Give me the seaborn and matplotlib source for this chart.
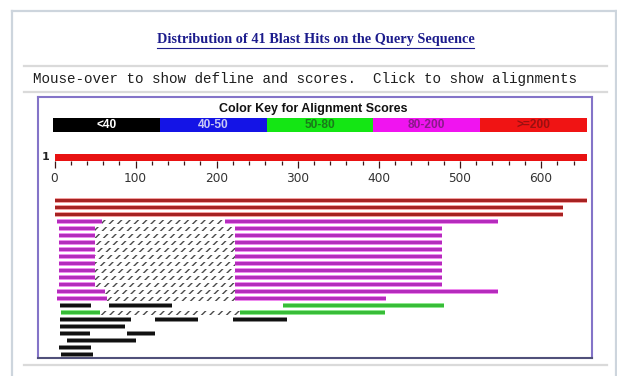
import numpy as np
import pandas as pd
import matplotlib
matplotlib.use("Agg")
import matplotlib.pyplot as plt
from matplotlib.colors import ListedColormap
import seaborn as sns

# ---------------- data ----------------
title_text = "Distribution of 41 Blast Hits on the Query Sequence"
hint_text = "Mouse-over to show defline and scores.  Click to show alignments"
key_title = "Color Key for Alignment Scores"
score_bins = ["<40", "40-50", "50-80", "80-200", ">=200"]
query_length = 657
ruler_major = [0, 100, 200, 300, 400, 500, 600]

# hit segments: row index, start, end, score bin index (-1 = link between HSPs)
seg_row = [0, 1, 2,
           3, 3, 3,
           4, 4, 4, 5, 5, 5, 6, 6, 6, 7, 7, 7, 8, 8, 8,
           9, 9, 9, 10, 10, 10, 11, 11, 11, 12, 12, 12,
           13, 13, 13, 14, 14, 14,
           15, 15, 15,
           16, 16, 16,
           17, 17, 17,
           18,
           19, 19,
           20, 21, 22]
seg_start = [1, 1, 1,
             3, 58, 210,
             5, 50, 222, 5, 50, 222, 5, 50, 222, 5, 50, 222, 5, 50, 222,
             5, 50, 222, 5, 50, 222, 5, 50, 222, 5, 50, 222,
             3, 62, 222, 3, 65, 222,
             7, 67, 282,
             8, 56, 229,
             7, 124, 220,
             7,
             7, 90,
             15, 5, 8]
seg_end = [656, 627, 627,
           58, 210, 547,
           50, 222, 478, 50, 222, 478, 50, 222, 478, 50, 222, 478, 50, 222, 478,
           50, 222, 478, 50, 222, 478, 50, 222, 478, 50, 222, 478,
           62, 222, 547, 65, 222, 409,
           45, 145, 480,
           56, 229, 407,
           94, 177, 287,
           87,
           44, 124,
           101, 45, 48]
seg_bin = [4, 4, 4,
           3, -1, 3,
           3, -1, 3, 3, -1, 3, 3, -1, 3, 3, -1, 3, 3, -1, 3,
           3, -1, 3, 3, -1, 3, 3, -1, 3, 3, -1, 3,
           3, -1, 3, 3, -1, 3,
           0, 0, 2,
           2, -1, 2,
           0, 0, 0,
           0,
           0, 0,
           0, 0, 0]

# ---------------- styles ----------------
key_colors = ["#000000", "#1414e6", "#14e614", "#f014f0", "#f01414"]
key_text_colors = ["#ffffff", "#c8c8f4", "#1a7a1a", "#8a1a8a", "#9a1010"]
bar_dark = ["#111111", "#1a1ad0", "#38bc38", "#b42cbc", "#a62222"]
bar_light = ["#8a8a8a", "#8888ee", "#8ee88e", "#ee8cee", "#f3a0a0"]

W, H = 617, 376
fig = plt.figure(figsize=(W / 100, H / 100), dpi=100)
fig.patch.set_facecolor("white")


def frac(x0, y0, x1, y1):
    return [x0 / W, 1 - y1 / H, (x1 - x0) / W, (y1 - y0) / H]


px0, px_per = 54.5, 0.811


def seq(p):
    return (p - px0) / px_per


row0, row_step = 200.5, 7.0


def rowpos(p):
    return (p - row0) / row_step


# page decorations (drawn on top, transparent)
page = fig.add_axes([0, 0, 1, 1])
page.set_xlim(0, W)
page.set_ylim(H, 0)
page.axis("off")
page.set_zorder(10)
page.patch.set_visible(False)
frame_c = "#cdd5dd"
page.plot([12, 12], [11, H], color=frame_c, lw=1.6)
page.plot([12, 616], [11, 11], color=frame_c, lw=1.6)
page.plot([615.5, 615.5], [11, H], color=frame_c, lw=1.6)
for yy in (66, 92, 365):
    page.plot([24, 607], [yy, yy], color="#dadada", lw=1.6)

page.text(316, 40, title_text, ha="center", va="center",
          family="Liberation Serif", fontweight="bold", fontsize=10.3,
          color="#1c1c8c")
page.plot([157, 474], [48, 48], color="#1c1c8c", lw=0.8)
page.text(33, 79, hint_text, ha="left", va="center",
          family="Liberation Mono", fontsize=10.3, color="#1e1e1e")

# hits panel
ax = fig.add_axes(frac(38, 97, 592, 358))
ax.set_facecolor("white")
ax.set_xlim(seq(38), seq(592))
ax.set_ylim(rowpos(358), rowpos(97))
ax.set_xticks([])
ax.set_yticks([])
for s in ax.spines.values():
    s.set_color("#8474c8")
    s.set_linewidth(1.5)
ax.spines["bottom"].set_color("#50507a")

df = pd.DataFrame({"row": seg_row, "start": seg_start, "end": seg_end, "bin": seg_bin})
df["width"] = df["end"] - df["start"]

links = df[df["bin"] < 0]
ax.barh(links["row"], links["width"], left=links["start"], height=4 / 7,
        color="white", edgecolor="#4a4a4a", hatch="////", linewidth=0)
for b in range(len(score_bins)):
    sub = df[df["bin"] == b]
    if len(sub) == 0:
        continue
    ax.barh(sub["row"], sub["width"], left=sub["start"], height=5 / 7,
            color=bar_light[b], linewidth=0)
    ax.barh(sub["row"], sub["width"], left=sub["start"], height=3 / 7,
            color=bar_dark[b], linewidth=0)

# ruler
rax = fig.add_axes(frac(38, 154, 592, 161))
rax.set_xlim(seq(38), seq(592))
rax.set_ylim(-0.5, 0.5)
rax.patch.set_alpha(0)
rax.barh([0], [query_length - 1], left=1, height=1.0, color="#e81212",
         linewidth=0)
for s in rax.spines.values():
    s.set_visible(False)
rax.set_yticks([])
rax.set_xticks(ruler_major)
rax.set_xticklabels([str(v) for v in ruler_major])
rax.set_xticks(list(range(20, 660, 20)), minor=True)
rax.tick_params(axis="x", which="major", direction="out", length=5.0,
                width=0.9, color="#3a1414", pad=3.0, labelsize=8.7,
                labelcolor="#333333")
rax.tick_params(axis="x", which="minor", direction="out", length=2.8,
                width=0.9, color="#3a1414")
for lab in rax.get_xticklabels():
    lab.set_family("DejaVu Sans")
page.text(46, 157, "1", ha="center", va="center", family="DejaVu Sans",
          fontweight="bold", fontsize=8, color="#222222")

# colour key
kax = fig.add_axes(frac(53, 118, 587, 132))
sns.heatmap(np.arange(len(score_bins)).reshape(1, -1), ax=kax,
            cmap=ListedColormap(key_colors), vmin=-0.5, vmax=len(score_bins) - 0.5,
            annot=np.array([score_bins]), fmt="", cbar=False,
            xticklabels=False, yticklabels=False,
            annot_kws={"fontsize": 8.6, "fontweight": "bold",
                       "family": "Liberation Sans"})
for t, c in zip(kax.texts, key_text_colors):
    t.set_color(c)
page.text(313, 109, key_title, ha="center", va="center",
          family="Liberation Sans", fontweight="bold", fontsize=9,
          color="#111111")

fig.savefig("out.png", dpi=100, facecolor="white")
